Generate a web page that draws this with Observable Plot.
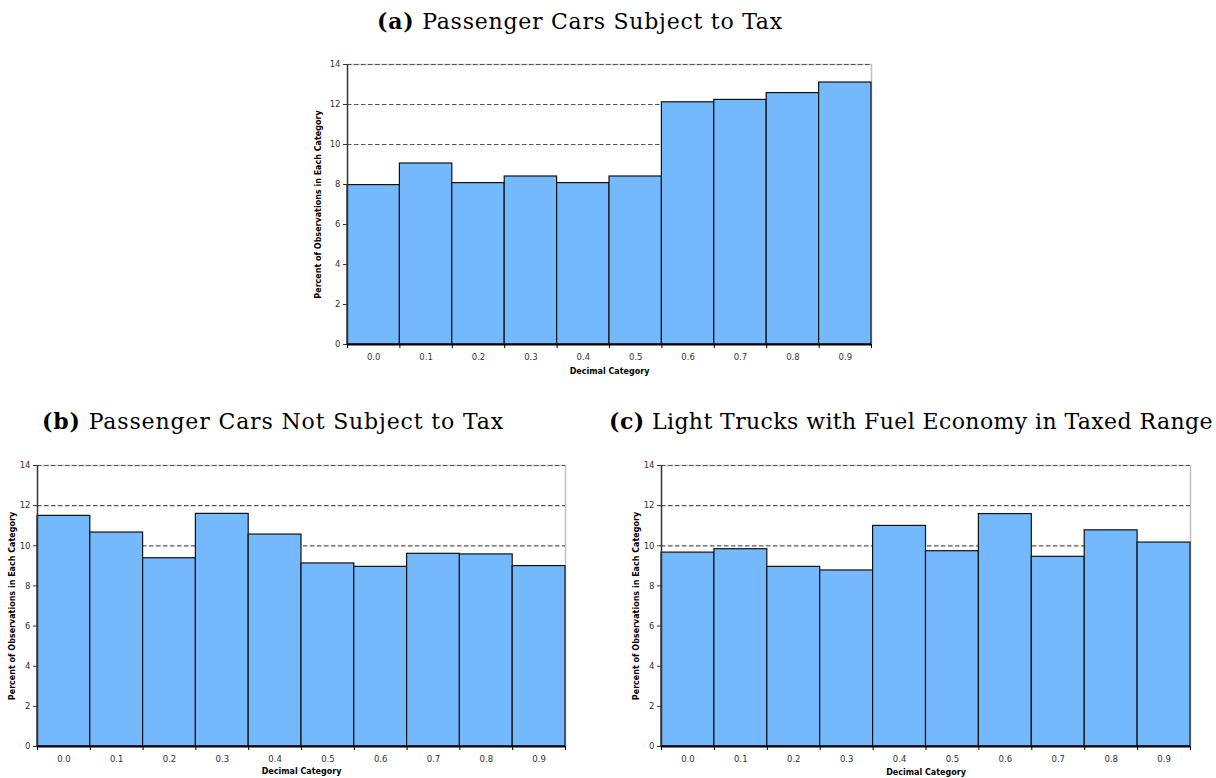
<!DOCTYPE html>
<html><head><meta charset="utf-8">
<script src="https://cdn.jsdelivr.net/npm/d3@7"></script>
<script src="https://cdn.jsdelivr.net/npm/@observablehq/plot@0.6"></script>
<style>
body{margin:0;background:#fff;width:1216px;height:778px;position:relative;overflow:hidden;font-family:"DejaVu Sans",sans-serif}
.title{position:absolute;font-family:"DejaVu Serif",serif;font-size:22px;line-height:22px;white-space:nowrap;transform:translateX(-50%);color:#000}
.panel{position:absolute}
.panel svg{overflow:visible}
</style></head><body>
<div class="title" style="left:580px;top:9.5px;letter-spacing:0.75px"><b>(a)</b> Passenger Cars Subject to Tax</div>
<div class="title" style="left:273px;top:409.5px;letter-spacing:0.85px"><b>(b)</b> Passenger Cars Not Subject to Tax</div>
<div class="title" style="left:911px;top:409.5px;letter-spacing:0.4px"><b>(c)</b> Light Trucks with Fuel Economy in Taxed Range</div>
<div class="panel" id="pa" style="left:300px;top:50px"></div>
<div class="panel" id="pb" style="left:0px;top:430px"></div>
<div class="panel" id="pc" style="left:620px;top:430px"></div>
<script>
const categories = [0.0, 0.1, 0.2, 0.3, 0.4, 0.5, 0.6, 0.7, 0.8, 0.9];
const carsTaxed = [7.97, 9.05, 8.07, 8.40, 8.07, 8.40, 12.11, 12.23, 12.57, 13.10];
const carsNotTaxed = [11.49, 10.66, 9.38, 11.59, 10.56, 9.12, 8.95, 9.60, 9.57, 8.99];
const trucksTaxedRange = [9.66, 9.83, 8.95, 8.77, 10.99, 9.73, 11.58, 9.45, 10.77, 10.16];
const yTicks = [0, 2, 4, 6, 8, 10, 12, 14];
const gridTicks = [2, 4, 6, 8, 10, 12, 14];
const yLabel = "Percent of Observations in Each Category";
const xLabel = "Decimal Category";
const binWidth = 0.1;

function histogram(values, o) {
  const data = categories.map((c, i) => ({c, v: values[i]}));
  const edges = categories.map(c => c - binWidth / 2).concat([categories[categories.length - 1] + binWidth / 2]);
  const x0 = edges[0], x1 = edges[edges.length - 1];
  return Plot.plot({
    width: o.width, height: o.height,
    marginLeft: o.marginLeft, marginRight: o.marginRight, marginTop: o.marginTop, marginBottom: o.marginBottom,
    style: {fontFamily: "'DejaVu Sans', Verdana, sans-serif", background: "transparent", overflow: "visible"},
    x: {domain: [x0, x1]},
    y: {domain: [0, 14]},
    marks: [
      Plot.ruleY([14], {stroke: "#c8c8c8", strokeWidth: 1.5}),
      Plot.ruleX([x1], {stroke: "#c0c0c0", strokeWidth: 1.5}),
      Plot.gridY(gridTicks, {stroke: "#555", strokeOpacity: 1, strokeWidth: 1.2, strokeDasharray: "4.5,2.5"}),
      Plot.rectY(data, {x1: d => d.c - binWidth / 2, x2: d => d.c + binWidth / 2, y1: 0, y2: "v", fill: "#74b8fe", stroke: "#111", strokeWidth: 1.2}),
      Plot.ruleX([x0], {stroke: "#333", strokeWidth: 1.5}),
      Plot.ruleY([0], {stroke: "#000", strokeWidth: 2}),
      Plot.axisY(yTicks, {tickSize: 4, tickPadding: 3, fontSize: 8.5, fill: "#333", stroke: "#333", label: null}),
      Plot.axisX(edges, {tickSize: 4, tickFormat: () => "", stroke: "#000", label: null}),
      Plot.axisX(categories, {tickSize: 0, tickPadding: 9, tickFormat: d3.format(".1f"), fontSize: 8.5, fill: "#333", label: null}),
      Plot.text([xLabel], {text: d => d, frameAnchor: "bottom", dy: o.xLabelOffset, lineAnchor: "middle", textAnchor: "middle", fontWeight: "bold", fontSize: 8, fill: "#000"}),
      Plot.text([yLabel], {text: d => d, frameAnchor: "left", dx: -o.yLabelOffset, rotate: -90, lineAnchor: "middle", textAnchor: "middle", fontWeight: "bold", fontSize: 8, fill: "#000"})
    ]
  });
}

document.getElementById("pa").append(histogram(carsTaxed, {width: 590, height: 330, marginLeft: 47, marginRight: 19, marginTop: 14, marginBottom: 36, xLabelOffset: 27, yLabelOffset: 29}));
document.getElementById("pb").append(histogram(carsNotTaxed, {width: 590, height: 348, marginLeft: 37, marginRight: 25, marginTop: 35, marginBottom: 32, xLabelOffset: 25, yLabelOffset: 25}));
document.getElementById("pc").append(histogram(trucksTaxedRange, {width: 596, height: 348, marginLeft: 41, marginRight: 26, marginTop: 35, marginBottom: 32, xLabelOffset: 26, yLabelOffset: 25}));
</script>
</body></html>
